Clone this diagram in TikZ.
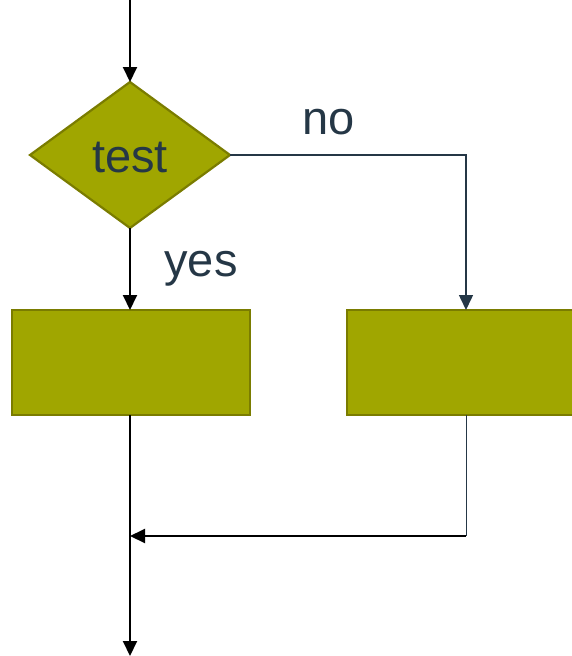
\documentclass[tikz,border=0pt]{standalone}
\usepackage{fontspec}
\setmainfont{Liberation Sans}
\usetikzlibrary{shapes.geometric,arrows.meta}
\definecolor{olivefill}{RGB}{160,166,0}
\definecolor{olivedraw}{RGB}{122,124,0}
\definecolor{navy}{RGB}{37,55,70}
\tikzset{
  blk/.style={draw=olivedraw,fill=olivefill,line width=2.2pt},
  lbl/.style={text=navy,font=\fontsize{47}{52}\selectfont,inner sep=0pt},
  flow/.style={line width=2pt,-{Triangle[length=15pt,width=14pt]}},
  nflow/.style={draw=navy,line width=1.5pt,-{Triangle[length=15pt,width=14pt]}},
  thin/.style={draw=navy,line width=1pt}
}
\begin{document}
\begin{tikzpicture}[x=1pt,y=-1pt]
\useasboundingbox (0,0) rectangle (572,656);
\clip (0,0) rectangle (572,656);
\node[blk,diamond,minimum width=200pt,minimum height=146pt,inner sep=0pt,outer sep=0pt] (test) at (130,155) {};
\node[lbl] at (130,158) {test};
\node[blk,rectangle,minimum width=238pt,minimum height=105pt,inner sep=0pt,outer sep=0pt] (yesbox) at (131,362.5) {};
\node[blk,rectangle,minimum width=240pt,minimum height=105pt,inner sep=0pt,outer sep=0pt] (nobox) at (467,362.5) {};
\coordinate (start) at (130,0);
\coordinate (finish) at (130,656);
\coordinate (corner1) at (466,155);
\coordinate (corner2) at (466,536);
\coordinate (join) at (130,536);
\node[lbl] (no) at (329,122) {no};
\node[lbl] (yes) at (201,269) {yes};
\draw[flow] (start) -- (test.north);
\draw[flow] (test.south) -- (130,310);
\draw[nflow] (test.east) -- (corner1) -- (nobox.north -| corner1);
\draw[flow] (130,415) -- (finish);
\draw[thin] (nobox.south -| corner2) -- (corner2);
\draw[flow] (corner2) -- (join);
\end{tikzpicture}
\end{document}
